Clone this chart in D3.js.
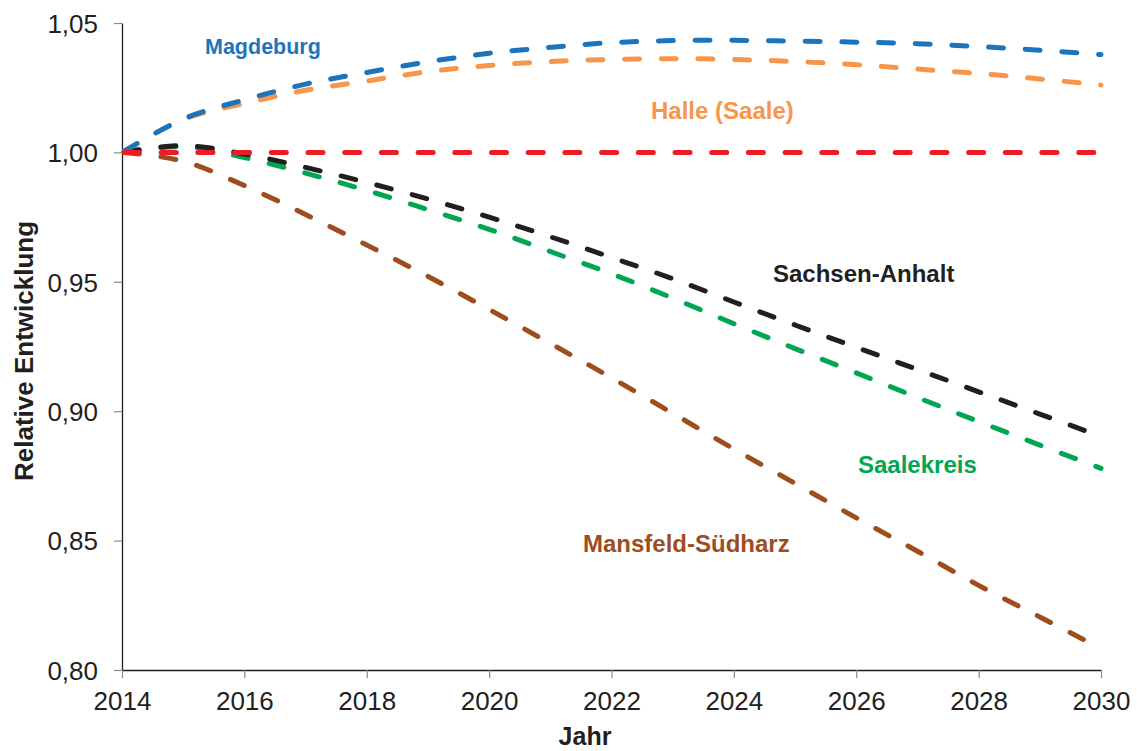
<!DOCTYPE html>
<html>
<head>
<meta charset="utf-8">
<script src="https://cdn.jsdelivr.net/npm/d3@7"></script>
<style>
  html, body { margin: 0; padding: 0; background: #fff; }
  svg { display: block; font-family: "Liberation Sans", Arial, Helvetica, sans-serif; }
</style>
</head>
<body>
<svg id="chart" width="1137" height="751"></svg>
<script>
// ---- Data ----
const years = [2014,2015,2016,2017,2018,2019,2020,2021,2022,2023,2024,2025,2026,2027,2028,2029,2030];
const magdeburg   = [1.0000,1.0129,1.0203,1.0264,1.0309,1.0350,1.0383,1.0406,1.0424,1.0432,1.0433,1.0430,1.0426,1.0420,1.0409,1.0395,1.0378];
const halle       = [1.0000,1.0127,1.0189,1.0240,1.0276,1.0312,1.0336,1.0351,1.0359,1.0362,1.0359,1.0351,1.0339,1.0322,1.0305,1.0284,1.0260];
const referenz    = [1.0000,1.0000,1.0000,1.0000,1.0000,1.0000,1.0000,1.0000,1.0000,1.0000,1.0000,1.0000,1.0000,1.0000,1.0000,1.0000,1.0000];
const sachsenAnhalt = [1.0000,1.0026,0.9994,0.9942,0.9884,0.9820,0.9750,0.9674,0.9594,0.9512,0.9422,0.9333,0.9247,0.9161,0.9075,0.8989,0.8902];
const saalekreis  = [1.0000,1.0022,0.9980,0.9920,0.9853,0.9779,0.9703,0.9617,0.9531,0.9437,0.9338,0.9242,0.9148,0.9053,0.8960,0.8869,0.8779];
const mansfeld    = [1.0000,0.9966,0.9872,0.9760,0.9642,0.9521,0.9393,0.9262,0.9129,0.8992,0.8854,0.8721,0.8588,0.8459,0.8327,0.8205,0.8083];
const xTicks = [2014,2016,2018,2020,2022,2024,2026,2028,2030];
const yTicks = [0.80,0.85,0.90,0.95,1.00,1.05];
const seriesNames = ["Mansfeld-Südharz","Saalekreis","Sachsen-Anhalt","Halle (Saale)","Magdeburg","Referenz"];

// ---- Layout / style ----
const colors = {
  "Magdeburg": "#1c75bc",
  "Halle (Saale)": "#f7964a",
  "Referenz": "#ed1c24",
  "Sachsen-Anhalt": "#231f20",
  "Saalekreis": "#00a651",
  "Mansfeld-Südharz": "#9e4d1e"
};
const seriesData = {
  "Magdeburg": magdeburg,
  "Halle (Saale)": halle,
  "Referenz": referenz,
  "Sachsen-Anhalt": sachsenAnhalt,
  "Saalekreis": saalekreis,
  "Mansfeld-Südharz": mansfeld
};
const labels = [
  {name: "Magdeburg", x: 205, y: 54, size: 21.5},
  {name: "Halle (Saale)", x: 651, y: 119, size: 24},
  {name: "Sachsen-Anhalt", x: 773, y: 282, size: 24},
  {name: "Saalekreis", x: 858, y: 473, size: 24},
  {name: "Mansfeld-Südharz", x: 583, y: 552, size: 24}
];

const svg = d3.select("#chart");
const mLeft = 122, mRight = 1101, mTop = 23, mBottom = 670;

const x = d3.scaleLinear().domain([2014, 2030]).range([mLeft, mRight]);
const y = d3.scaleLinear().domain([0.80, 1.05]).range([mBottom, mTop]);
const fmt = v => d3.format(".2f")(v).replace(".", ",");

// Axes
const yAxis = svg.append("g")
  .attr("transform", `translate(${mLeft},0)`)
  .call(d3.axisLeft(y).tickValues(yTicks).tickFormat(fmt).tickSize(8).tickSizeOuter(0).tickPadding(16));
const xAxis = svg.append("g")
  .attr("transform", `translate(0,${mBottom})`)
  .call(d3.axisBottom(x).tickValues(xTicks).tickFormat(d3.format("d")).tickSize(8).tickSizeOuter(0).tickPadding(14));

[yAxis, xAxis].forEach(g => {
  g.select(".domain").attr("stroke", "#231f20").attr("stroke-width", 1.3);
  g.selectAll(".tick line").attr("stroke", "#8a8a8a").attr("stroke-width", 1.2);
  g.selectAll(".tick text").attr("fill", "#231f20").attr("font-size", 26);
});
yAxis.selectAll(".tick text").attr("dy", "0.36em");
xAxis.selectAll(".tick text").attr("dy", "0.71em");

// Axis titles
svg.append("text")
  .attr("transform", `translate(33,351) rotate(-90)`)
  .attr("text-anchor", "middle")
  .attr("font-weight", "bold").attr("font-size", 26).attr("fill", "#231f20")
  .text("Relative Entwicklung");
svg.append("text")
  .attr("x", 585).attr("y", 745)
  .attr("text-anchor", "middle")
  .attr("font-weight", "bold").attr("font-size", 25).attr("fill", "#231f20")
  .text("Jahr");

// Lines
const line = d3.line()
  .x((d, i) => x(years[i]))
  .y(d => y(d))
  .curve(d3.curveCardinal.tension(0));

const g = svg.append("g");
seriesNames.forEach(name => {
  g.append("path")
    .datum(seriesData[name])
    .attr("d", line)
    .attr("fill", "none")
    .attr("stroke", colors[name])
    .attr("stroke-width", 5)
    .attr("stroke-linecap", "round")
    .attr("stroke-dasharray", "15,21.7")
    .attr("stroke-dashoffset", -2.5);
});

// Series labels
labels.forEach(l => {
  svg.append("text")
    .attr("x", l.x).attr("y", l.y)
    .attr("font-weight", "bold")
    .attr("font-size", l.size)
    .attr("fill", colors[l.name])
    .text(l.name);
});
</script>
</body>
</html>
